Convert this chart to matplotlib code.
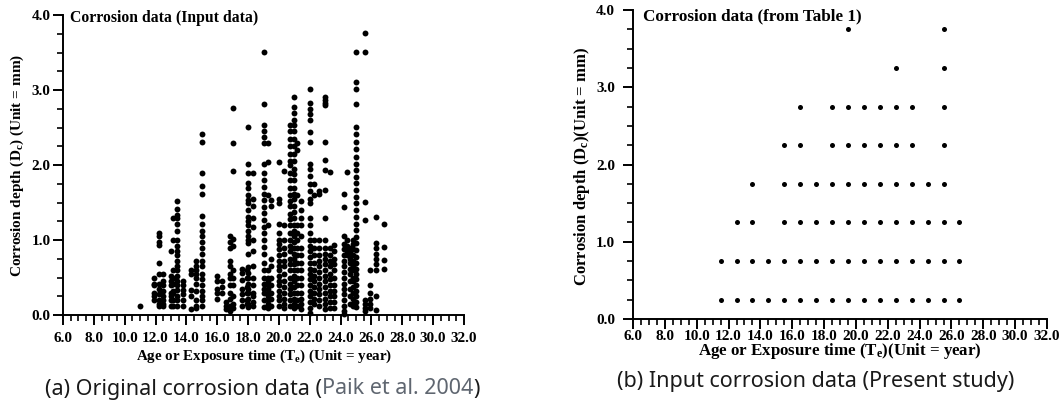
import matplotlib
matplotlib.use('Agg')
import matplotlib.pyplot as plt
from matplotlib.ticker import MultipleLocator, FormatStrFormatter

plt.rcParams['font.family'] = ['Liberation Serif', 'DejaVu Serif']
plt.rcParams['font.weight'] = 'bold'
plt.rcParams['mathtext.fontset'] = 'custom'
plt.rcParams['mathtext.rm'] = 'Liberation Serif:bold'
plt.rcParams['mathtext.it'] = 'Liberation Serif:bold'
plt.rcParams['mathtext.bf'] = 'Liberation Serif:bold'

a_time = [11.0, 11.9, 12.2, 12.5, 13.0, 13.1, 13.4, 13.8, 14.3, 14.6, 15.0,
          16.0, 16.3, 16.6, 16.8, 17.0, 17.6, 17.9, 18.0, 18.3, 19.0, 19.3,
          19.5, 20.0, 20.3, 20.7, 21.0, 21.2, 21.4, 22.0, 22.3, 22.6, 23.0,
          23.3, 23.6, 24.2, 24.4, 24.6, 24.8, 25.0, 25.6, 25.9, 26.3, 26.8]
a_depth = [
    [0.12],
    [0.5, 0.42, 0.4, 0.3, 0.25, 0.2],
    [1.1, 1.05, 0.98, 0.94, 0.7, 0.55, 0.42, 0.35, 0.28, 0.2, 0.15, 0.12],
    [0.55, 0.45, 0.4, 0.32, 0.25, 0.2, 0.15, 0.12],
    [0.86, 0.52, 0.45, 0.4, 0.3, 0.25, 0.2, 0.12],
    [1.3, 1.0, 0.6, 0.5, 0.42, 0.32, 0.3, 0.2, 0.12],
    [1.52, 1.42, 1.33, 1.3, 1.22, 1.12, 1.0, 0.92, 0.85, 0.8, 0.72, 0.65,
     0.6, 0.52, 0.45, 0.4, 0.33, 0.25, 0.2, 0.12],
    [0.45, 0.4, 0.33, 0.28, 0.2, 0.12],
    [0.6, 0.55, 0.33, 0.25, 0.08],
    [0.72, 0.65, 0.6, 0.55, 0.5, 0.42, 0.32, 0.2, 0.12, 0.1],
    [2.41, 2.31, 1.9, 1.72, 1.62, 1.32, 1.22, 1.12, 1.05, 0.98, 0.9, 0.82,
     0.72, 0.65, 0.55, 0.48, 0.4, 0.32, 0.25, 0.2, 0.12],
    [0.52, 0.45, 0.35, 0.3, 0.22],
    [0.45, 0.38, 0.3],
    [0.18, 0.12, 0.08],
    [1.05, 0.98, 0.9, 0.72, 0.65, 0.55, 0.5, 0.4, 0.3, 0.22, 0.12, 0.05],
    [2.76, 2.3, 1.92, 1.02, 0.92, 0.6, 0.5, 0.4, 0.25, 0.15, 0.1],
    [0.62, 0.56, 0.47, 0.35, 0.28, 0.2, 0.12],
    [0.6, 0.5, 0.38, 0.3, 0.2, 0.15],
    [2.51, 2.02, 1.9, 1.76, 1.7, 1.6, 1.53, 1.49, 1.4, 1.31, 1.25, 1.2,
     1.12, 1.05, 1.0, 0.96, 0.82, 0.64, 0.56, 0.5, 0.42, 0.35, 0.29, 0.22,
     0.15, 0.11],
    [1.9, 1.55, 1.45, 1.3, 1.18, 1.0, 0.85, 0.65, 0.5, 0.4, 0.3, 0.25,
     0.18, 0.12],
    [3.51, 2.81, 2.53, 2.45, 2.38, 2.29, 2.02, 1.89, 1.8, 1.71, 1.62, 1.53,
     1.44, 1.36, 1.27, 1.18, 1.09, 1.0, 0.91, 0.82, 0.7, 0.6, 0.5, 0.42,
     0.35, 0.29, 0.2, 0.11],
    [2.29, 2.04, 1.6, 1.2, 0.6, 0.5, 0.45, 0.4, 0.35, 0.3, 0.25, 0.2,
     0.15, 0.1],
    [1.53, 1.45, 0.75, 0.65, 0.5, 0.4, 0.3, 0.22, 0.12],
    [2.04, 1.55, 1.5, 1.22, 1.1, 1.0, 0.95, 0.88, 0.8, 0.72, 0.65, 0.6,
     0.52, 0.45, 0.4, 0.32, 0.25, 0.2, 0.12],
    [1.92, 1.2, 1.0, 0.9, 0.82, 0.72, 0.65, 0.55, 0.45, 0.38, 0.3, 0.22,
     0.15, 0.1],
    [2.53, 2.45, 2.35, 2.25, 2.15, 2.05, 2.0, 1.9, 1.8, 1.7, 1.6, 1.52,
     1.45, 1.35, 1.28, 1.2, 1.1, 1.0, 0.92, 0.85, 0.75, 0.68, 0.6, 0.5,
     0.42, 0.35, 0.28, 0.2, 0.12],
    [2.91, 2.78, 2.7, 2.6, 2.53, 2.45, 2.35, 2.25, 2.15, 2.05, 1.95, 1.88,
     1.8, 1.7, 1.62, 1.55, 1.45, 1.38, 1.3, 1.2, 1.12, 1.05, 0.98, 0.9,
     0.82, 0.75, 0.68, 0.6, 0.52, 0.45, 0.38, 0.3, 0.22, 0.15, 0.1],
    [2.3, 2.2, 1.6, 1.2, 1.1, 1.0, 0.9, 0.8, 0.7, 0.6, 0.5, 0.4, 0.3,
     0.2, 0.12],
    [1.52, 1.4, 1.3, 1.2, 1.05, 0.9, 0.8, 0.7, 0.6, 0.5, 0.4, 0.3, 0.22,
     0.15, 0.08],
    [3.02, 2.83, 2.75, 2.68, 2.6, 2.44, 2.31, 2.02, 1.95, 1.85, 1.75, 1.65,
     1.55, 1.5, 1.3, 1.2, 1.1, 1.0, 0.92, 0.85, 0.78, 0.7, 0.62, 0.55,
     0.48, 0.4, 0.32, 0.25, 0.18, 0.1, 0.03],
    [1.75, 1.6, 1.0, 0.9, 0.8, 0.7, 0.6, 0.52, 0.45, 0.38, 0.3, 0.22, 0.15],
    [1.65, 1.62, 1.0, 0.9, 0.8, 0.72, 0.65, 0.58, 0.5, 0.42, 0.35, 0.28,
     0.2, 0.12],
    [2.91, 2.87, 2.83, 2.8, 2.31, 2.07, 1.93, 1.67, 1.3, 1.0, 0.9, 0.82,
     0.75, 0.68, 0.6, 0.52, 0.45, 0.38, 0.3, 0.22, 0.15, 0.08],
    [1.91, 0.9, 0.8, 0.72, 0.65, 0.55, 0.48, 0.4, 0.32, 0.25, 0.18, 0.1],
    [0.93, 0.85, 0.75, 0.68, 0.6, 0.5, 0.4, 0.32, 0.25, 0.18, 0.1],
    [1.62, 1.44, 1.05, 0.95, 0.88, 0.8, 0.72, 0.65, 0.58, 0.5, 0.42, 0.35,
     0.28, 0.2, 0.12, 0.05, 0.02],
    [1.91, 1.0, 0.92, 0.85, 0.8],
    [0.9, 0.85, 0.8, 0.75, 0.7, 0.62, 0.55, 0.45, 0.35, 0.25, 0.15],
    [1.0, 0.95, 0.88, 0.8, 0.72, 0.65, 0.6, 0.5, 0.45, 0.38, 0.3, 0.22,
     0.15, 0.12],
    [3.51, 3.11, 3.02, 2.81, 2.51, 2.41, 2.31, 2.21, 2.11, 2.02, 1.93,
     1.84, 1.76, 1.67, 1.58, 1.49, 1.4, 1.31, 1.22, 1.13, 1.04, 0.96,
     0.87, 0.78, 0.7, 0.62, 0.55, 0.48, 0.4, 0.32, 0.25, 0.18, 0.11],
    [3.76, 3.51, 1.51, 1.27, 0.2, 0.15, 0.1, 0.05],
    [0.6, 0.4, 0.29, 0.22, 0.15, 0.1],
    [1.31, 0.96, 0.9, 0.82, 0.75, 0.68, 0.6, 0.25, 0.07],
    [1.22, 0.91, 0.73, 0.62],
]

# (b) input corrosion data, one row per depth class (depth -> exposure times)
b_depth = [0.25, 0.75, 1.25, 1.75, 2.25, 2.75, 3.25, 3.75]
b_time = [
    [11.5, 12.5, 13.5, 14.5, 15.5, 16.5, 17.5, 18.5, 19.5, 20.5, 21.5, 22.5,
     23.5, 24.5, 25.5, 26.5],
    [11.5, 12.5, 13.5, 14.5, 15.5, 16.5, 17.5, 18.5, 19.5, 20.5, 21.5, 22.5,
     23.5, 24.5, 25.5, 26.5],
    [12.5, 13.5, 15.5, 16.5, 17.5, 18.5, 19.5, 20.5, 21.5, 22.5, 23.5, 24.5,
     25.5, 26.5],
    [13.5, 15.5, 16.5, 17.5, 18.5, 19.5, 20.5, 21.5, 22.5, 23.5, 24.5, 25.5],
    [15.5, 16.5, 18.5, 19.5, 20.5, 21.5, 22.5, 23.5, 25.5],
    [16.5, 18.5, 19.5, 20.5, 21.5, 22.5, 23.5, 25.5],
    [22.5, 25.5],
    [19.5, 25.5],
]

W, H = 1063, 409
fig = plt.figure(figsize=(W / 100, H / 100), dpi=100)


def px_box(x0, x1, ytop, ybot):
    return [x0 / W, 1 - ybot / H, (x1 - x0) / W, (ybot - ytop) / H]


def style_axis(ax, xpad, ypad):
    ax.set_xlim(6, 32)
    ax.set_ylim(0, 4)
    ax.spines['top'].set_visible(False)
    ax.spines['right'].set_visible(False)
    for s in ('left', 'bottom'):
        ax.spines[s].set_linewidth(1.4)
    ax.xaxis.set_major_locator(MultipleLocator(2))
    ax.xaxis.set_minor_locator(MultipleLocator(0.5))
    ax.yaxis.set_major_locator(MultipleLocator(1))
    ax.yaxis.set_minor_locator(MultipleLocator(0.25))
    ax.xaxis.set_major_formatter(FormatStrFormatter('%.1f'))
    ax.yaxis.set_major_formatter(FormatStrFormatter('%.1f'))
    ax.tick_params(which='major', length=7, width=1.4, labelsize=11)
    ax.tick_params(which='minor', length=4.5, width=1.2)
    ax.tick_params(axis='x', which='major', pad=xpad)
    ax.tick_params(axis='y', which='major', pad=ypad)
    for lab in ax.get_xticklabels() + ax.get_yticklabels():
        lab.set_fontweight('bold')


# panel (a)
ax1 = fig.add_axes(px_box(63, 464, 15, 315))
xs, ys = [], []
for t, ds in zip(a_time, a_depth):
    xs += [t] * len(ds)
    ys += ds
ax1.scatter(xs, ys, s=18, c='black', linewidths=0, clip_on=False)
style_axis(ax1, 5.5, 2)
ax1.text(0.017, 0.99, 'Corrosion data (Input data)', transform=ax1.transAxes,
         fontsize=11.3, fontweight='bold', va='center', ha='left')
fig.text(264 / W, 1 - 356 / H, r'Age or Exposure time (T$_e$) (Unit = year)',
         fontsize=10.8, fontweight='bold', ha='center', va='center')
fig.text(17 / W, 1 - 165 / H, r'Corrosion depth (D$_c$) (Unit = mm)',
         fontsize=11, fontweight='bold', ha='center', va='center', rotation=90)

# panel (b)
ax2 = fig.add_axes(px_box(633, 1047, 10, 319))
xs, ys = [], []
for d, ts in zip(b_depth, b_time):
    xs += ts
    ys += [d] * len(ts)
ax2.scatter(xs, ys, s=13, c='black', linewidths=0, clip_on=False)
style_axis(ax2, 1, 6)
ax2.text(0.024, 0.98, 'Corrosion data (from Table 1)', transform=ax2.transAxes,
         fontsize=12.3, fontweight='bold', va='center', ha='left')
fig.text(840 / W, 1 - 351 / H, r'Age or Exposure time (T$_e$)(Unit = year)',
         fontsize=12.2, fontweight='bold', ha='center', va='center')
fig.text(582 / W, 1 - 166 / H, r'Corrosion depth (D$_c$)(Unit = mm)',
         fontsize=12, fontweight='bold', ha='center', va='center', rotation=90)

# captions
cap = dict(fontsize=15.5, family=['Noto Sans', 'DejaVu Sans'], fontweight='normal')
ycap_a = 1 - 389 / H
t1 = fig.text(45 / W, ycap_a, '(a) Original corrosion data (', va='center',
              color='#1a1a1a', **cap)
fig.text(617 / W, 1 - 381 / H, '(b) Input corrosion data (Present study)',
         va='center', color='#1a1a1a', **cap)

# citation in grey, placed right after the first caption piece
fig.canvas.draw()
rend = fig.canvas.get_renderer()
bb = t1.get_window_extent(renderer=rend)
t2 = fig.text(bb.x1 / W, ycap_a, 'Paik et al. 2004', va='center',
              color='#5f6670', **cap)
bb2 = t2.get_window_extent(renderer=rend)
fig.text(bb2.x1 / W, ycap_a, ')', va='center', color='#1a1a1a', **cap)

fig.savefig('out.png', dpi=100)
